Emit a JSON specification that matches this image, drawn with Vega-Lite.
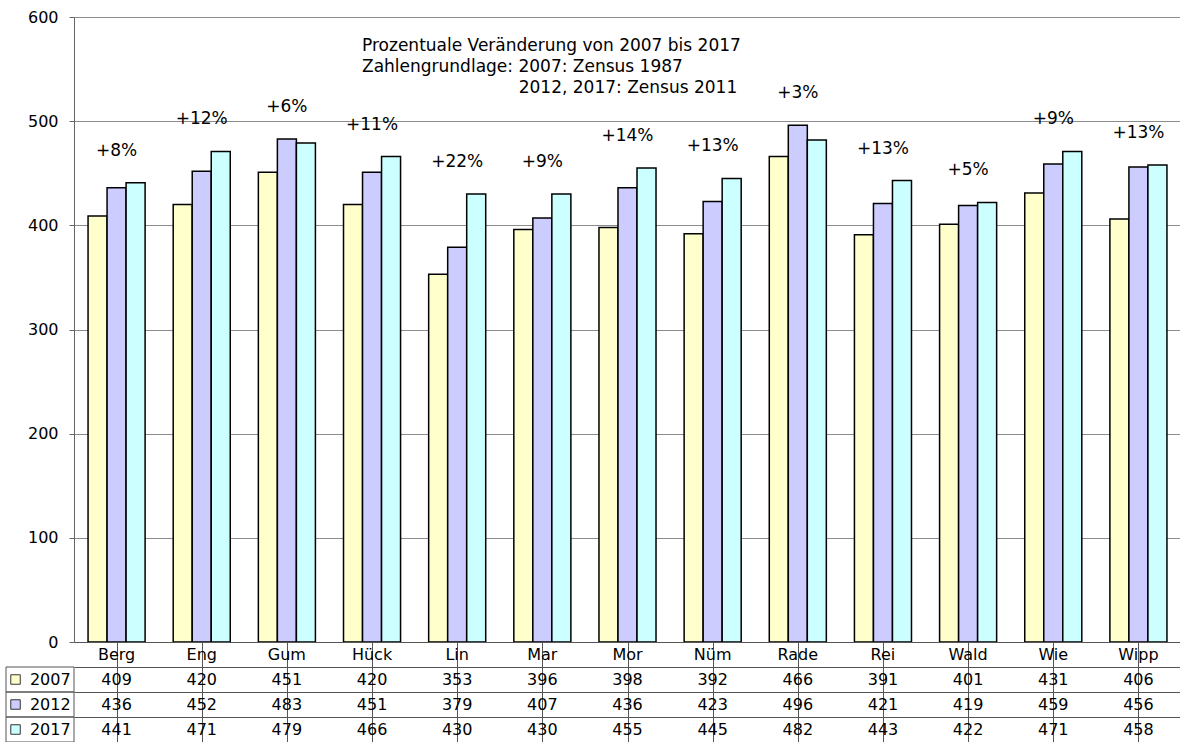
{
  "$schema": "https://vega.github.io/schema/vega-lite/v6.json",
  "padding": {"left": 5, "top": 9, "right": 0, "bottom": 0},
  "background": "white",
  "spacing": -8,
  "align": "none",
  "config": {
    "font": "DejaVu Sans",
    "view": {"stroke": null},
    "concat": {"spacing": 0}
  },
  "datasets": {
    "vals": [
      {"cat": "Berg", "year": "2007", "value": 409, "pct": "+8%"},
      {"cat": "Berg", "year": "2012", "value": 436, "pct": "+8%"},
      {"cat": "Berg", "year": "2017", "value": 441, "pct": "+8%"},
      {"cat": "Eng", "year": "2007", "value": 420, "pct": "+12%"},
      {"cat": "Eng", "year": "2012", "value": 452, "pct": "+12%"},
      {"cat": "Eng", "year": "2017", "value": 471, "pct": "+12%"},
      {"cat": "Gum", "year": "2007", "value": 451, "pct": "+6%"},
      {"cat": "Gum", "year": "2012", "value": 483, "pct": "+6%"},
      {"cat": "Gum", "year": "2017", "value": 479, "pct": "+6%"},
      {"cat": "Hück", "year": "2007", "value": 420, "pct": "+11%"},
      {"cat": "Hück", "year": "2012", "value": 451, "pct": "+11%"},
      {"cat": "Hück", "year": "2017", "value": 466, "pct": "+11%"},
      {"cat": "Lin", "year": "2007", "value": 353, "pct": "+22%"},
      {"cat": "Lin", "year": "2012", "value": 379, "pct": "+22%"},
      {"cat": "Lin", "year": "2017", "value": 430, "pct": "+22%"},
      {"cat": "Mar", "year": "2007", "value": 396, "pct": "+9%"},
      {"cat": "Mar", "year": "2012", "value": 407, "pct": "+9%"},
      {"cat": "Mar", "year": "2017", "value": 430, "pct": "+9%"},
      {"cat": "Mor", "year": "2007", "value": 398, "pct": "+14%"},
      {"cat": "Mor", "year": "2012", "value": 436, "pct": "+14%"},
      {"cat": "Mor", "year": "2017", "value": 455, "pct": "+14%"},
      {"cat": "Nüm", "year": "2007", "value": 392, "pct": "+13%"},
      {"cat": "Nüm", "year": "2012", "value": 423, "pct": "+13%"},
      {"cat": "Nüm", "year": "2017", "value": 445, "pct": "+13%"},
      {"cat": "Rade", "year": "2007", "value": 466, "pct": "+3%"},
      {"cat": "Rade", "year": "2012", "value": 496, "pct": "+3%"},
      {"cat": "Rade", "year": "2017", "value": 482, "pct": "+3%"},
      {"cat": "Rei", "year": "2007", "value": 391, "pct": "+13%"},
      {"cat": "Rei", "year": "2012", "value": 421, "pct": "+13%"},
      {"cat": "Rei", "year": "2017", "value": 443, "pct": "+13%"},
      {"cat": "Wald", "year": "2007", "value": 401, "pct": "+5%"},
      {"cat": "Wald", "year": "2012", "value": 419, "pct": "+5%"},
      {"cat": "Wald", "year": "2017", "value": 422, "pct": "+5%"},
      {"cat": "Wie", "year": "2007", "value": 431, "pct": "+9%"},
      {"cat": "Wie", "year": "2012", "value": 459, "pct": "+9%"},
      {"cat": "Wie", "year": "2017", "value": 471, "pct": "+9%"},
      {"cat": "Wipp", "year": "2007", "value": 406, "pct": "+13%"},
      {"cat": "Wipp", "year": "2012", "value": 456, "pct": "+13%"},
      {"cat": "Wipp", "year": "2017", "value": 458, "pct": "+13%"}
    ],
    "years": [
      {"year": "2007"},
      {"year": "2012"},
      {"year": "2017"}
    ]
  },
  "vconcat": [
    {
      "width": 1107,
      "height": 625,
      "data": {"name": "vals"},
      "title": {
        "text": [
          "Prozentuale Veränderung von 2007 bis 2017",
          "Zahlengrundlage: 2007: Zensus 1987",
          "\u200d\u00a0\u00a0\u00a0\u00a0\u00a0\u00a0\u00a0\u00a0\u00a0\u00a0\u00a0\u00a0\u00a0\u00a0\u00a0\u00a0\u00a0\u00a0\u00a0\u00a0\u00a0\u00a0\u00a0\u00a0\u00a0\u00a0\u00a0\u00a0\u00a02012, 2017: Zensus 2011"
        ],
        "anchor": "start",
        "frame": "group",
        "orient": "top",
        "baseline": "top",
        "offset": 0,
        "dx": 288,
        "dy": 88,
        "fontSize": 17,
        "fontWeight": "normal",
        "lineHeight": 21,
        "color": "black",
        "font": "DejaVu Sans"
      },
      "encoding": {
        "x": {
          "field": "cat",
          "type": "nominal",
          "sort": null,
          "scale": {"paddingInner": 0.33, "paddingOuter": 0.165},
          "axis": null
        }
      },
      "layer": [
        {
          "mark": {"type": "bar", "stroke": "black", "strokeWidth": 1.5},
          "encoding": {
            "xOffset": {"field": "year", "type": "nominal", "scale": {"paddingInner": 0, "paddingOuter": 0}},
            "y": {
              "field": "value",
              "type": "quantitative",
              "scale": {"domain": [0, 600], "nice": false},
              "axis": {
                "values": [0, 100, 200, 300, 400, 500, 600],
                "grid": true,
                "gridColor": "#8c8c8c",
                "gridWidth": 1,
                "domainColor": "#666666",
                "tickColor": "#666666",
                "tickSize": 5,
                "labelPadding": 11,
                "labelFontSize": 16,
                "labelColor": "black",
                "labelFont": "DejaVu Sans",
                "title": null,
                "minExtent": 68,
                "maxExtent": 68
              }
            },
            "color": {
              "field": "year",
              "type": "nominal",
              "scale": {"domain": ["2007", "2012", "2017"], "range": ["#FFFFCC", "#CCCCFF", "#CCFFFF"]},
              "legend": null
            }
          }
        },
        {
          "mark": {"type": "text", "baseline": "middle", "dy": -32, "fontSize": 17, "color": "black"},
          "encoding": {
            "y": {"aggregate": "max", "field": "value", "type": "quantitative"},
            "text": {"field": "pct", "type": "nominal"}
          }
        }
      ]
    },
    {
      "width": 1107,
      "height": 100,
      "resolve": {"scale": {"x": "independent"}, "axis": {"x": "independent"}},
      "layer": [
        {
          "data": {"name": "vals"},
          "transform": [{"filter": "datum.year === '2007'"}],
          "mark": {"type": "text", "baseline": "middle", "fontSize": 16, "color": "black"},
          "encoding": {
            "x": {
              "field": "cat",
              "type": "nominal",
              "sort": null,
              "scale": {"paddingInner": 0, "paddingOuter": 0},
              "axis": {
                "grid": true,
                "bandPosition": 0,
                "gridColor": "#555555",
                "labels": false,
                "ticks": false,
                "domain": false,
                "title": null,
                "minExtent": 0,
                "maxExtent": 0
              }
            },
            "y": {
              "datum": "name",
              "type": "nominal",
              "scale": {"domain": ["name", "2007", "2012", "2017"], "paddingInner": 0, "paddingOuter": 0},
              "axis": {
                "grid": true,
                "bandPosition": 0,
                "gridColor": "#555555",
                "labels": false,
                "ticks": false,
                "domain": false,
                "title": null,
                "minExtent": 0,
                "maxExtent": 0
              }
            },
            "text": {"field": "cat", "type": "nominal"}
          }
        },
        {
          "data": {"name": "vals"},
          "mark": {"type": "text", "baseline": "middle", "fontSize": 16, "color": "black"},
          "encoding": {
            "x": {
              "field": "cat",
              "type": "nominal",
              "sort": null,
              "scale": {"paddingInner": 0, "paddingOuter": 0},
              "axis": null
            },
            "y": {"field": "year", "type": "nominal"},
            "text": {"field": "value", "type": "quantitative"}
          }
        },
        {
          "data": {"name": "years"},
          "mark": {"type": "rect", "fillOpacity": 0, "stroke": "#555555", "strokeWidth": 1},
          "encoding": {
            "x": {"datum": 0, "type": "quantitative", "scale": {"domain": [0, 1], "range": [-68, 0], "nice": false, "zero": false}, "axis": null},
            "x2": {"datum": 1},
            "y": {"field": "year", "type": "nominal"}
          }
        },
        {
          "data": {"name": "years"},
          "mark": {"type": "point", "shape": "square", "size": 90, "filled": true, "stroke": "#333333", "strokeWidth": 1, "opacity": 1},
          "encoding": {
            "x": {"datum": 0.14, "type": "quantitative", "scale": {"domain": [0, 1], "range": [-68, 0], "nice": false, "zero": false}, "axis": null},
            "y": {"field": "year", "type": "nominal"},
            "color": {
              "field": "year",
              "type": "nominal",
              "scale": {"domain": ["2007", "2012", "2017"], "range": ["#FFFFCC", "#CCCCFF", "#CCFFFF"]},
              "legend": null
            }
          }
        },
        {
          "data": {"name": "years"},
          "mark": {"type": "text", "align": "right", "baseline": "middle", "fontSize": 16, "color": "black"},
          "encoding": {
            "x": {"datum": 0.95, "type": "quantitative", "scale": {"domain": [0, 1], "range": [-68, 0], "nice": false, "zero": false}, "axis": null},
            "y": {"field": "year", "type": "nominal"},
            "text": {"field": "year", "type": "nominal"}
          }
        }
      ]
    }
  ]
}
